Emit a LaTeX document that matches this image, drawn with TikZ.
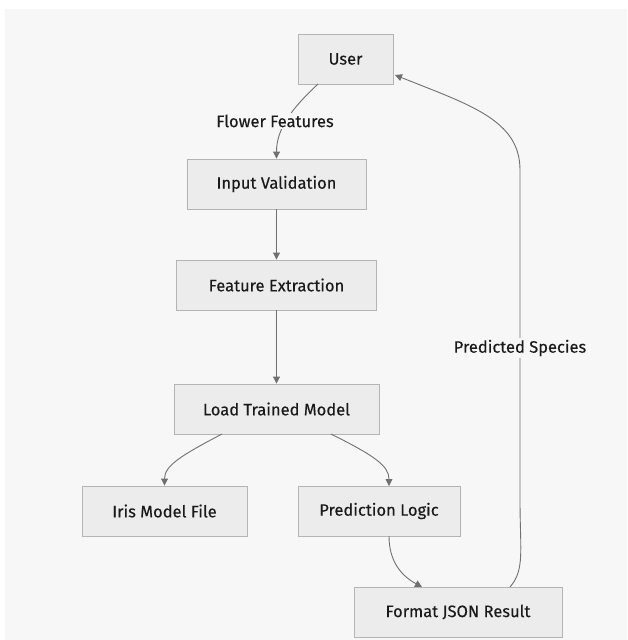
\documentclass[tikz,border=0pt]{standalone}
\usepackage{fontspec}
\setmainfont{Fira Sans}[FakeBold=0.25]
\usetikzlibrary{arrows.meta}
\definecolor{bgcol}{HTML}{F7F7F7}
\definecolor{boxfill}{HTML}{ECECEC}
\definecolor{boxline}{HTML}{B4B4B4}
\definecolor{edgecol}{HTML}{707070}
\definecolor{txtcol}{HTML}{1A1A1A}
\tikzset{
  box/.style={draw=boxline, fill=boxfill, line width=0.9pt, minimum height=50pt,
    inner sep=0pt, text=txtcol, font=\fontsize{16.5}{18}\selectfont},
  flow/.style={draw=edgecol, line width=0.9pt, -{Triangle[length=7pt,width=7pt]}},
  elabel/.style={fill=bgcol, inner sep=1.5pt, text=txtcol, font=\fontsize{16.5}{18}\selectfont}
}
\begin{document}
\begin{tikzpicture}[x=1pt,y=-1pt]
  \useasboundingbox (0,0) rectangle (627,640);
  \fill[white] (0,0) rectangle (627,640);
  \fill[bgcol] (5,9) rectangle (627,640);

  \node[box, minimum width=95pt]  (user)  at (345.5,59)  {User};
  \node[box, minimum width=179pt] (valid) at (276.5,184) {Input Validation};
  \node[box, minimum width=200pt] (feat)  at (276.5,285) {Feature Extraction};
  \node[box, minimum width=205pt] (load)  at (276.5,409) {Load Trained Model};
  \node[box, minimum width=165pt] (iris)  at (164.5,511) {Iris Model File};
  \node[box, minimum width=162pt] (pred)  at (379,511)   {Prediction Logic};
  \node[box, minimum width=208pt] (fmt)   at (458,612)   {Format JSON Result};

  \coordinate (ua) at (318,84);
  \draw[flow] (ua) .. controls (290,110) and (276.5,130) .. (valid.north);
  \node[elabel] (ff) at (275,121) {Flower Features};

  \draw[flow] (valid) -- (feat);
  \draw[flow] (feat) -- (load);

  \coordinate (l1) at (222,434);
  \coordinate (l2) at (331,434);
  \draw[flow] (l1) .. controls (180,456) and (164.5,466) .. (iris.north);
  \draw[flow] (l2) .. controls (375,456) and (389,466) .. (389,486);

  \coordinate (p1) at (389,536);
  \draw[flow] (p1) .. controls (389,560) and (400,575) .. (422,587);

  \coordinate (f1) at (510,587);
  \coordinate (u1) at (395,75);
  \draw[flow] (f1) .. controls (525,570) and (520,550) .. (520,500)
     -- (520,170) .. controls (520,120) and (470,105) .. (u1);
  \node[elabel] (ps) at (520,348) {Predicted Species};
\end{tikzpicture}
\end{document}
